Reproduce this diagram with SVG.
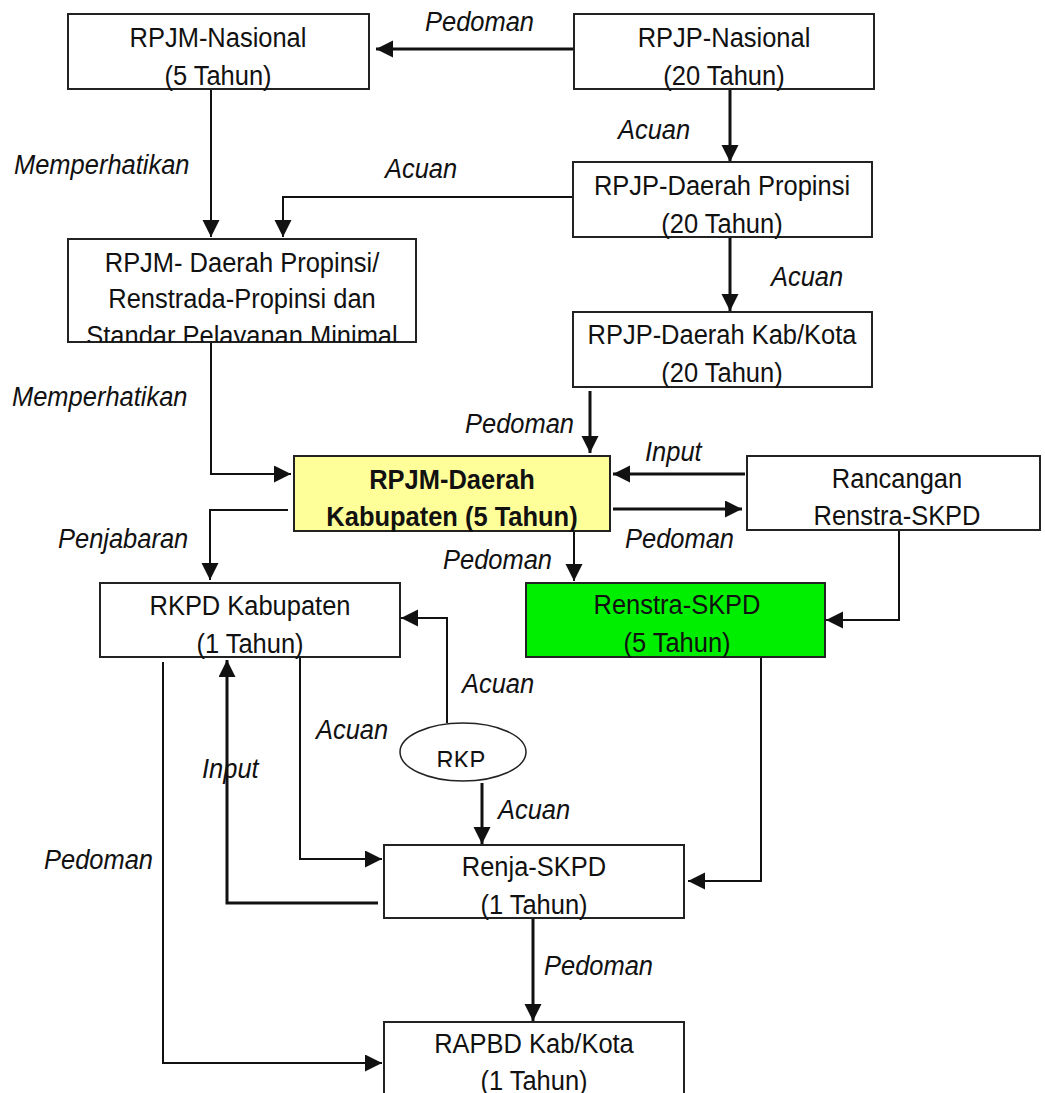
<svg xmlns="http://www.w3.org/2000/svg" width="1045" height="1093" viewBox="0 0 1045 1093">
<style>
.box{fill:#fff;stroke:#222;stroke-width:2}
.t{font-family:"Liberation Sans",Arial,sans-serif;font-size:28px;fill:#111;text-anchor:middle}
.b{font-weight:bold}
.lbl{font-family:"Liberation Sans",Arial,sans-serif;font-size:28px;font-style:italic;fill:#111}
.c{fill:none;stroke:#111;stroke-width:2;marker-end:url(#ah)}
.k{stroke-width:3}
</style>
<defs>
<marker id="ah" markerUnits="userSpaceOnUse" markerWidth="18" markerHeight="18" refX="17" refY="8.5" orient="auto">
<path d="M0,0 L17,8.5 L0,17 z" fill="#111"/>
</marker>
<clipPath id="clipProp"><rect x="68" y="239" width="348" height="103"/></clipPath>
<clipPath id="clipRkp"><rect x="380" y="700" width="200" height="67"/></clipPath>
</defs>

<g id="connectors">
<path class="c k" d="M574,49 L376,49"/>
<path class="c" d="M211,89 L211,237"/>
<path class="c" d="M573,197 L283,197 L283,237"/>
<path class="c k" d="M730,89 L730,162"/>
<path class="c k" d="M730,238 L730,311"/>
<path class="c k" d="M590,391 L590,453"/>
<path class="c" d="M211,342 L211,474 L291,474"/>
<path class="c k" d="M745,474 L613,474"/>
<path class="c k" d="M613,509 L742,509"/>
<path class="c" d="M574,532 L574,581"/>
<path class="c" d="M899,530 L899,620 L826,620"/>
<path class="c" d="M288,510 L210,510 L210,580"/>
<path class="c" d="M447,723 L447,618 L401,618"/>
<path class="c" d="M761,657 L761,881 L688,881"/>
<path class="c k" d="M482,783 L482,844"/>
<path class="c" d="M300,657 L300,859 L382,859"/>
<path class="c k" d="M378,903 L227,903 L227,660"/>
<path class="c" d="M163,662 L163,1063 L382,1063"/>
<path class="c k" d="M533,918 L533,1021"/>
</g>

<g id="labels">
<text class="lbl" transform="matrix(0.91 0 0 1 425 31)">Pedoman</text>
<text class="lbl" transform="matrix(0.91 0 0 1 14 174)">Memperhatikan</text>
<text class="lbl" transform="matrix(0.91 0 0 1 385 178)">Acuan</text>
<text class="lbl" transform="matrix(0.91 0 0 1 618 139)">Acuan</text>
<text class="lbl" transform="matrix(0.91 0 0 1 771 286)">Acuan</text>
<text class="lbl" transform="matrix(0.91 0 0 1 12 406)">Memperhatikan</text>
<text class="lbl" transform="matrix(0.91 0 0 1 465 433)">Pedoman</text>
<text class="lbl" transform="matrix(0.91 0 0 1 645 461)">Input</text>
<text class="lbl" transform="matrix(0.91 0 0 1 625 548)">Pedoman</text>
<text class="lbl" transform="matrix(0.91 0 0 1 443 569)">Pedoman</text>
<text class="lbl" transform="matrix(0.91 0 0 1 58 548)">Penjabaran</text>
<text class="lbl" transform="matrix(0.91 0 0 1 462 693)">Acuan</text>
<text class="lbl" transform="matrix(0.91 0 0 1 316 739)">Acuan</text>
<text class="lbl" transform="matrix(0.91 0 0 1 202 778)">Input</text>
<text class="lbl" transform="matrix(0.91 0 0 1 498 819)">Acuan</text>
<text class="lbl" transform="matrix(0.91 0 0 1 44 869)">Pedoman</text>
<text class="lbl" transform="matrix(0.91 0 0 1 544 975)">Pedoman</text>
</g>

<g id="rpjm-nasional">
<rect class="box" x="68" y="14" width="301" height="75"/>
<text class="t" transform="matrix(0.91 0 0 1 218 47)">RPJM-Nasional</text>
<text class="t" transform="matrix(0.91 0 0 1 218 85)">(5 Tahun)</text>
</g>

<g id="rpjp-nasional">
<rect class="box" x="574" y="14" width="300" height="75"/>
<text class="t" transform="matrix(0.91 0 0 1 724 47)">RPJP-Nasional</text>
<text class="t" transform="matrix(0.91 0 0 1 724 85)">(20 Tahun)</text>
</g>

<g id="rpjp-daerah-propinsi">
<rect class="box" x="573" y="162" width="299" height="75"/>
<text class="t" transform="matrix(0.91 0 0 1 722 195)">RPJP-Daerah Propinsi</text>
<text class="t" transform="matrix(0.91 0 0 1 722 233)">(20 Tahun)</text>
</g>

<g id="rpjm-daerah-propinsi">
<rect class="box" x="68" y="239" width="348" height="103"/>
<g clip-path="url(#clipProp)">
<text class="t" transform="matrix(0.91 0 0 1 242 272)">RPJM- Daerah Propinsi/</text>
<text class="t" transform="matrix(0.91 0 0 1 242 308)">Renstrada-Propinsi dan</text>
<text class="t" transform="matrix(0.91 0 0 1 242 345)">Standar Pelayanan Minimal</text>
</g>
</g>

<g id="rpjp-daerah-kabkota">
<rect class="box" x="573" y="312" width="299" height="75"/>
<text class="t" transform="matrix(0.91 0 0 1 722 344)">RPJP-Daerah Kab/Kota</text>
<text class="t" transform="matrix(0.91 0 0 1 722 382)">(20 Tahun)</text>
</g>

<g id="rpjm-daerah-kabupaten">
<rect class="box" x="294" y="456" width="316" height="75" style="fill:#ffff99"/>
<text class="t b" transform="matrix(0.91 0 0 1 452 489)">RPJM-Daerah</text>
<text class="t b" transform="matrix(0.91 0 0 1 452 526)">Kabupaten (5 Tahun)</text>
</g>

<g id="rancangan-renstra-skpd">
<rect class="box" x="747" y="456" width="293" height="74"/>
<text class="t" transform="matrix(0.91 0 0 1 897 488)">Rancangan</text>
<text class="t" transform="matrix(0.91 0 0 1 897 525)">Renstra-SKPD</text>
</g>

<g id="renstra-skpd">
<rect class="box" x="526" y="583" width="299" height="74" style="fill:#00ee00"/>
<text class="t" transform="matrix(0.91 0 0 1 677 614)">Renstra-SKPD</text>
<text class="t" transform="matrix(0.91 0 0 1 677 652)">(5 Tahun)</text>
</g>

<g id="rkpd-kabupaten">
<rect class="box" x="100" y="583" width="300" height="74"/>
<text class="t" transform="matrix(0.91 0 0 1 250 615)">RKPD Kabupaten</text>
<text class="t" transform="matrix(0.91 0 0 1 250 653)">(1 Tahun)</text>
</g>

<g id="rkp">
<ellipse cx="463" cy="752" rx="63" ry="29" style="fill:#fff;stroke:#222;stroke-width:1.5"/>
<g clip-path="url(#clipRkp)">
<text class="t" transform="matrix(0.95 0 0 1 461 769)" style="font-size:25px">RKP</text>
</g>
</g>

<g id="renja-skpd">
<rect class="box" x="384" y="845" width="300" height="73"/>
<text class="t" transform="matrix(0.91 0 0 1 534 876)">Renja-SKPD</text>
<text class="t" transform="matrix(0.91 0 0 1 534 914)">(1 Tahun)</text>
</g>

<g id="rapbd-kabkota">
<rect class="box" x="384" y="1022" width="300" height="90"/>
<text class="t" transform="matrix(0.91 0 0 1 534 1053)">RAPBD Kab/Kota</text>
<text class="t" transform="matrix(0.91 0 0 1 534 1090)">(1 Tahun)</text>
</g>
</svg>
